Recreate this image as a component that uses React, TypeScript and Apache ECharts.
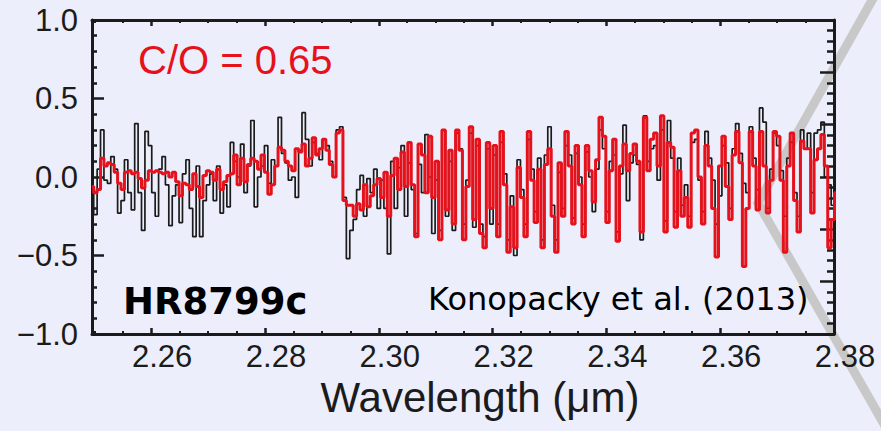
import React, { useEffect, useRef } from "react";
import * as echarts from "echarts";

// Wavelength sampling grid of both spectra (µm)
const lambdaStart = 2.2496;
const lambdaStep = 0.0006;

// Observed spectrum, continuum-normalised flux (black)
const observedFlux = [
  -0.06, -0.24, 0.05, 0.30, -0.02, -0.04, 0.13, 0.05, -0.23, -0.15,
  0.11, -0.10, -0.21, 0.34, -0.10, -0.34, 0.29, 0.20, -0.10, -0.25,
  0.05, 0.13, -0.05, -0.31, -0.12, -0.05, -0.29, 0.02, 0.11, -0.20,
  -0.38, 0.07, -0.38, -0.15, -0.05, 0.02, -0.15, 0.07, -0.23, -0.05,
  -0.19, 0.22, 0.10, 0.00, 0.21, -0.10, 0.07, 0.36, -0.19, 0.00,
  0.07, 0.20, -0.04, 0.11, 0.07, 0.38, 0.15, 0.09, -0.02, 0.00,
  -0.13, 0.17, 0.41, 0.24, 0.07, 0.22, 0.15, 0.11, 0.24, 0.20,
  0.10, 0.00, 0.30, 0.32, -0.13, -0.52, -0.34, -0.27, -0.08, 0.01,
  -0.25, -0.01, -0.10, 0.05, -0.20, -0.02, -0.20, -0.49, 0.10, -0.20,
  0.06, 0.20, -0.25, 0.09, -0.08, -0.36, 0.08, -0.10, 0.27, 0.00,
  -0.36, -0.02, -0.34, 0.30, -0.25, 0.10, -0.34, 0.28, 0.18, -0.30,
  -0.02, 0.28, -0.32, 0.20, -0.30, -0.38, 0.18, -0.30, 0.14, -0.30,
  0.22, 0.02, -0.40, -0.12, -0.50, 0.11, -0.08, -0.30, 0.24, 0.05,
  -0.22, 0.12, -0.40, 0.14, 0.32, -0.18, -0.40, 0.03, -0.20, 0.20,
  0.14, -0.26, 0.15, 0.00, -0.30, 0.16, 0.00, -0.22, 0.05, 0.30,
  0.18, -0.22, 0.10, 0.14, -0.35, 0.02, 0.33, -0.15, 0.09, 0.14,
  0.08, -0.40, 0.39, 0.10, 0.18, 0.20, -0.02, 0.30, -0.28, 0.36,
  0.12, -0.22, 0.12, -0.18, -0.05, -0.25, 0.22, 0.24, -0.02, -0.22,
  0.29, 0.12, -0.02, -0.30, -0.12, 0.20, 0.09, -0.20, 0.18, 0.34,
  0.15, -0.04, -0.10, 0.32, 0.12, -0.08, 0.44, 0.35, -0.20, 0.05,
  0.28, 0.20, 0.04, -0.25, 0.12, 0.22, -0.10, -0.25, 0.30, 0.18,
  0.28, -0.10, 0.28, 0.30, 0.35, 0.00, -0.05, -0.18, -0.12,
];

// Model spectrum for C/O = 0.65 (red)
const modelFlux = [
  -0.06, -0.10, -0.08, 0.12, 0.07, 0.09, 0.08, 0.03, -0.04, -0.08,
  0.03, 0.04, 0.02, 0.03, -0.01, -0.07, -0.02, 0.04, 0.03, 0.04,
  0.03, 0.02, 0.03, 0.00, 0.03, -0.03, -0.12, -0.04, -0.05, -0.08,
  0.02, -0.06, -0.13, 0.01, 0.04, 0.03, -0.02, 0.05, -0.08, -0.03,
  0.01, 0.02, 0.14, -0.05, 0.12, -0.03, 0.08, 0.12, 0.10, 0.05,
  0.14, 0.03, -0.11, -0.05, 0.07, 0.19, 0.17, 0.10, 0.07, 0.04,
  0.18, 0.16, 0.21, 0.07, 0.12, 0.25, 0.14, 0.18, 0.24, 0.17,
  0.08, 0.00, 0.28, 0.30, -0.15, -0.18, -0.18, -0.25, -0.17, -0.21,
  -0.05, -0.19, -0.12, -0.05, -0.01, -0.13, 0.03, -0.25, 0.01, 0.12,
  -0.08, 0.16, -0.06, 0.22, -0.05, -0.38, 0.21, 0.14, -0.10, 0.26,
  -0.13, 0.10, -0.40, 0.30, -0.21, 0.17, -0.30, 0.30, 0.17, -0.40,
  -0.06, 0.32, -0.27, 0.24, -0.36, -0.45, 0.22, -0.20, 0.20, -0.38,
  0.29, -0.05, -0.48, -0.19, -0.45, 0.06, -0.13, -0.38, 0.29, -0.02,
  -0.29, 0.05, -0.45, 0.08, 0.18, -0.25, -0.48, 0.09, -0.25, 0.29,
  0.07, -0.30, 0.20, -0.05, -0.38, 0.20, 0.04, -0.16, 0.11, 0.38,
  0.26, -0.29, 0.04, 0.24, -0.41, 0.07, 0.21, 0.04, 0.15, 0.21,
  0.10, -0.35, 0.38, 0.04, 0.24, 0.28, 0.07, 0.39, -0.35, 0.22,
  0.19, -0.32, 0.04, -0.25, -0.13, -0.32, 0.28, 0.30, 0.00, -0.30,
  0.20, 0.07, -0.20, -0.51, 0.07, 0.26, -0.06, -0.27, 0.14, 0.29,
  0.09, -0.57, -0.20, 0.29, 0.07, -0.21, 0.29, 0.07, -0.23, -0.02,
  0.29, 0.26, -0.02, -0.48, 0.07, 0.28, -0.15, -0.35, 0.23, 0.18,
  0.18, -0.23, 0.11, 0.18, 0.27, 0.07, -0.45, -0.27, -0.10,
];

const xMin = 2.2496;
const xMax = 2.38;
const yMin = -1.0;
const yMax = 1.0;

const coLabel = "C/O = 0.65";
const objectLabel = "HR8799c";
const referenceLabel = "Konopacky et al. (2013)";
const xTitle = "Wavelength (\u03bcm)";

const INK = "#1b1b1b";
const RED = "#e5121c";
const SANS = '"Liberation Sans", Arial, Helvetica, sans-serif';
const DEJAVU = '"DejaVu Sans", Verdana, sans-serif';

const toPairs = (values: number[]) =>
  values.map((v, i) => [+(lambdaStart + i * lambdaStep).toFixed(4), v]);

const frameLine = { show: true, onZero: false, lineStyle: { color: INK, width: 3 } };

export default function App() {
  const ref = useRef<HTMLDivElement>(null);

  useEffect(() => {
    if (!ref.current) return;
    const chart = echarts.init(ref.current, undefined, { renderer: "svg" });

    const xTickBase = {
      type: "value" as const,
      min: xMin,
      max: xMax,
      splitNumber: 6,
      axisLine: frameLine,
      axisTick: { show: true, inside: true, length: 6, lineStyle: { color: INK, width: 2.5 } },
      minorTick: { show: true, splitNumber: 4, length: 3, lineStyle: { color: INK, width: 2 } },
      splitLine: { show: false },
      minorSplitLine: { show: false },
    };

    chart.setOption({
      animation: false,
      backgroundColor: "#eceefb",
      grid: { left: 92, right: 47, top: 20, bottom: 97, containLabel: false },
      xAxis: [
        {
          ...xTickBase,
          position: "bottom",
          axisLabel: {
            show: true,
            showMinLabel: false,
            formatter: (v: number) => v.toFixed(2),
            fontFamily: SANS,
            fontSize: 31,
            color: INK,
            margin: 7,
            padding: [0, 0, 0, 22],
          },
          name: xTitle,
          nameLocation: "middle",
          nameGap: 42,
          nameTextStyle: {
            fontFamily: SANS,
            fontSize: 42,
            color: INK,
            padding: [0, 0, 0, 34],
          },
        },
        {
          ...xTickBase,
          position: "top",
          axisLabel: { show: false },
        },
      ],
      yAxis: [
        {
          type: "value",
          position: "left",
          min: yMin,
          max: yMax,
          interval: 0.5,
          axisLine: frameLine,
          axisTick: { show: true, inside: true, length: 12, lineStyle: { color: INK, width: 2.5 } },
          minorTick: { show: true, splitNumber: 5, length: 5, lineStyle: { color: INK, width: 2.5 } },
          splitLine: { show: false },
          axisLabel: {
            formatter: (v: number) => v.toFixed(1).replace("-", "\u2212"),
            fontFamily: SANS,
            fontSize: 31,
            color: INK,
            margin: 14,
          },
        },
        {
          type: "value",
          position: "right",
          min: -3,
          max: 3,
          interval: 1,
          axisLine: frameLine,
          axisTick: { show: true, inside: true, length: 14, lineStyle: { color: INK, width: 2.5 } },
          minorTick: { show: true, splitNumber: 5, length: 7, lineStyle: { color: INK, width: 2.5 } },
          splitLine: { show: false },
          axisLabel: { show: false },
        },
      ],
      series: [
        {
          name: "Observed",
          type: "line",
          xAxisIndex: 0,
          yAxisIndex: 0,
          step: "middle",
          symbol: "none",
          data: toPairs(observedFlux),
          lineStyle: { color: INK, width: 1.7 },
          z: 3,
        },
        {
          name: "Model",
          type: "line",
          xAxisIndex: 0,
          yAxisIndex: 0,
          step: "middle",
          symbol: "none",
          data: toPairs(modelFlux),
          lineStyle: { color: RED, width: 3 },
          z: 4,
        },
      ],
      graphic: [
        {
          type: "polyline",
          z: -10,
          silent: true,
          shape: { points: [[875, -5], [758, 203], [893, 440]] },
          style: { stroke: "#c8c8c8", lineWidth: 9, fill: null, lineJoin: "miter" },
        },
        {
          type: "text",
          x: 138,
          y: 60,
          z: 10,
          style: {
            text: coLabel,
            fill: RED,
            fontFamily: SANS,
            fontSize: 40,
            align: "left",
            verticalAlign: "middle",
          },
        },
        {
          type: "text",
          x: 123,
          y: 301,
          z: 10,
          style: {
            text: objectLabel,
            fill: "#000000",
            fontFamily: DEJAVU,
            fontWeight: "bold",
            fontSize: 37,
            align: "left",
            verticalAlign: "middle",
          },
        },
        {
          type: "text",
          x: 428,
          y: 299,
          z: 10,
          style: {
            text: referenceLabel,
            fill: "#000000",
            fontFamily: DEJAVU,
            fontSize: 32,
            align: "left",
            verticalAlign: "middle",
          },
        },
      ],
    });

    return () => chart.dispose();
  }, []);

  return (
    <div
      ref={ref}
      style={{ position: "absolute", left: 0, top: 0, width: 881, height: 431 }}
    />
  );
}
